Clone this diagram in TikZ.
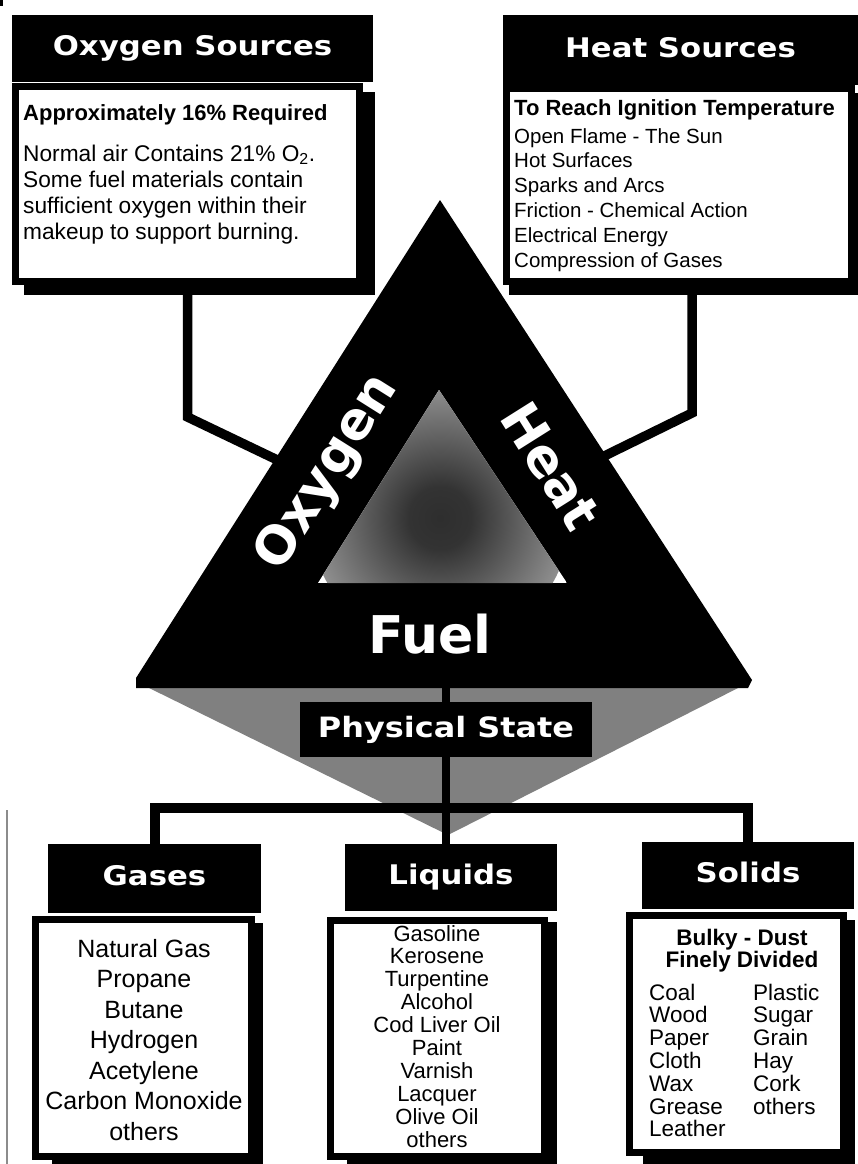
\documentclass[tikz,border=0pt]{standalone}
\usepackage{fontspec}
\setmainfont{Liberation Sans}
\newfontfamily\hfont{DejaVu Sans}[FakeStretch=1.14]
\newfontfamily\tfont{DejaVu Sans}
\usetikzlibrary{calc}
\pgfdeclareradialshading{coreshade}{\pgfpoint{0bp}{0bp}}{color(0bp)=(black!82); color(6bp)=(black!80); color(26bp)=(black!42); color(40bp)=(black!10); color(46bp)=(white); color(50bp)=(white)}
\begin{document}
\begin{tikzpicture}[x=1pt,y=-1pt,
  hdr/.style={fill=black, text=white, inner sep=0pt, text height=20pt, text depth=6pt,
    font=\hfont\bfseries\fontsize{27}{27}\selectfont},
  frame/.style={draw=black, fill=white, line width=7pt, inner sep=0pt},
  shadowbox/.style={fill=black},
  conn/.style={draw=black, line join=miter},
  boldline/.style={inner sep=0pt, font=\bfseries\fontsize{22}{26}\selectfont},
  oxline/.style={anchor=base west, inner sep=0pt, font=\fontsize{22.7}{26}\selectfont},
  heatline/.style={anchor=base west, inner sep=0pt, font=\fontsize{20.5}{24}\selectfont},
  gasline/.style={anchor=base, inner sep=0pt, font=\fontsize{25}{30}\selectfont},
  liqline/.style={anchor=base, inner sep=0pt, font=\fontsize{22}{23}\selectfont},
  solline/.style={anchor=base west, inner sep=0pt, font=\fontsize{22.5}{23}\selectfont},
  tritext/.style={text=white, inner sep=0pt, font=\tfont\bfseries\fontsize{52}{52}\selectfont}
]
\useasboundingbox (0,0) rectangle (858,1164);
\fill[white] (0,0) rectangle (858,1164);
\fill (0,0) rectangle (3,6);
\draw[black!45, line width=2pt] (7,810) -- (7,1164);

% ---------- top boxes ----------
\fill[shadowbox] (24,92) rectangle (375,295);
\node[frame, minimum width=344pt, minimum height=195pt] (oxbox) at (187.5,184) {};
\node[hdr, minimum width=361pt, minimum height=67pt] (oxhdr) at (192.5,48.5) {Oxygen Sources};
\node[boldline, anchor=base west] (oxreq) at (23,120) {Approximately 16\% Required};
\foreach \t [count=\i] in {{Normal air Contains 21\% O\textsubscript{2}.},Some fuel materials contain,sufficient oxygen within their,makeup to support burning.}
  {\node[oxline] (ox\i) at (23,{161+26.3*(\i-1)}) {\t};}

\fill[shadowbox] (509,93) rectangle (862,295);
\node[frame, minimum width=345pt, minimum height=193pt] (heatbox) at (679,185) {};
\node[hdr, minimum width=355pt, minimum height=70pt] (heathdr) at (680.5,50) {Heat Sources};
\node[boldline, anchor=base west] (heatreq) at (514,115) {To Reach Ignition Temperature};
\foreach \t [count=\i] in {Open Flame - The Sun,Hot Surfaces,Sparks and Arcs,Friction - Chemical Action,Electrical Energy,Compression of Gases}
  {\node[heatline] (heat\i) at (514,{143+24.8*(\i-1)}) {\t};}

% ---------- top connectors ----------
\coordinate (oxin) at (292,467);
\coordinate (heatin) at (588,464);
\draw[conn, line width=9.5pt] (oxbox.south) -- (oxbox.south |- 0,417) -- (oxin);
\draw[conn, line width=9.5pt] (heatbox.south -| 692,0) -- (692,413) -- (heatin);

% ---------- fire triangle ----------
\coordinate (apex) at (440,200);
\coordinate (fuelbase) at (446,686);
\fill[black!50] (145,686) -- (742,686) -- (448,835) -- cycle;
\fill[black] (136,678) -- (apex) -- (752,680) -- (748,688) -- (136,688) -- cycle;
\begin{scope}
  \clip (439,390) -- (318,583) -- (567,583) -- cycle;
  \fill[white] (318,390) rectangle (567,583);
  \shade[shading=coreshade] (440,518) circle (130);
\end{scope}
\node[tritext, rotate=57.8] (oxlabel) at (328,473) {Oxygen};
\node[tritext, rotate=-57.8] (heatlabel) at (551,466) {Heat};
\node[tritext, anchor=base] (fuellabel) at (430,653) {Fuel};

% ---------- bottom boxes ----------
\node[hdr, minimum width=213pt, minimum height=69pt] (gashdr) at (154.5,878.5) {Gases};
\node[hdr, minimum width=212pt, minimum height=67pt] (liqhdr) at (451,877.5) {Liquids};
\node[hdr, minimum width=212pt, minimum height=67pt] (solhdr) at (748,875.5) {Solids};

\draw[conn, line width=8pt] (fuelbase) -- (fuelbase |- liqhdr.north);
\node[hdr, text height=21pt, minimum width=292pt, minimum height=55pt,
      font=\hfont\bfseries\fontsize{28}{28}\selectfont] (psnode) at (446,729.5) {Physical State};
\coordinate (bar) at (446,808);
\draw[conn, line width=10pt] (gashdr.north) |- (bar) -| (solhdr.north);

\fill[shadowbox] (52,923) rectangle (263,1170);
\node[frame, minimum width=215.5pt, minimum height=237.5pt] (gasbox) at (143.25,1037.75) {};
\foreach \t [count=\i] in {Natural Gas,Propane,Butane,Hydrogen,Acetylene,Carbon Monoxide,others}
  {\node[gasline] (gas\i) at (144,{957+30.5*(\i-1)}) {\t};}

\fill[shadowbox] (347,922) rectangle (557,1170);
\node[frame, minimum width=214pt, minimum height=236.5pt] (liqbox) at (437,1038.25) {};
\foreach \t [count=\i] in {Gasoline,Kerosene,Turpentine,Alcohol,Cod Liver Oil,Paint,Varnish,Lacquer,Olive Oil,others}
  {\node[liqline] (liq\i) at (437,{941+22.9*(\i-1)}) {\t};}

\fill[shadowbox] (643,920) rectangle (855,1170);
\node[frame, minimum width=214pt, minimum height=237pt] (solbox) at (736.5,1034) {};
\node[boldline, anchor=base, font=\bfseries\fontsize{22.5}{23}\selectfont] (solhead1) at (742,945) {Bulky - Dust};
\node[boldline, anchor=base, font=\bfseries\fontsize{22.5}{23}\selectfont] (solhead2) at (742,967) {Finely Divided};
\foreach \t [count=\i] in {Coal,Wood,Paper,Cloth,Wax,Grease,Leather}
  {\node[solline] (sola\i) at (649,{1000+22.8*(\i-1)}) {\t};}
\foreach \t [count=\i] in {Plastic,Sugar,Grain,Hay,Cork,others}
  {\node[solline] (solb\i) at (753,{1000+22.8*(\i-1)}) {\t};}
\end{tikzpicture}
\end{document}
